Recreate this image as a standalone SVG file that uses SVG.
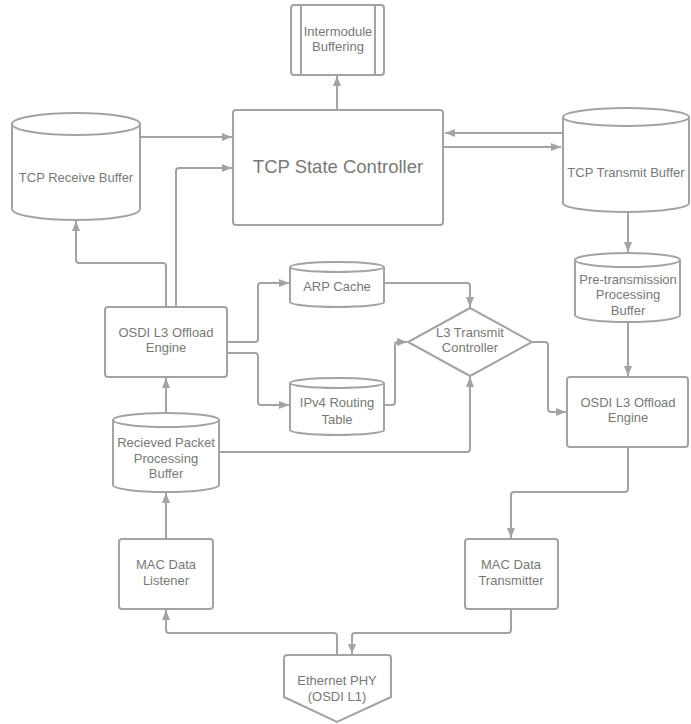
<svg xmlns="http://www.w3.org/2000/svg" width="691" height="724" viewBox="0 0 691 724">
<style>
.s{fill:#fff;stroke:#a3a3a3;stroke-width:2;}
.n{fill:none;stroke:#a3a3a3;stroke-width:2;}
.t{font-family:"Liberation Sans",Arial,sans-serif;font-size:13px;fill:#787878;text-anchor:middle;}
.big{font-size:18.5px;}
.c{fill:none;stroke:#a3a3a3;stroke-width:2;stroke-linejoin:round;marker-end:url(#ah);}
.c0{fill:none;stroke:#a3a3a3;stroke-width:2;stroke-linejoin:round;}
</style>
<defs>
<marker id="ah" markerUnits="userSpaceOnUse" markerWidth="12" markerHeight="10" refX="10" refY="4" orient="auto">
<path d="M0,0 L10,4 L0,8 z" fill="#a3a3a3"/>
</marker>
</defs>
<rect width="691" height="724" fill="#fff"/>
<g id="connectors">
<path class="c" d="M140,137 H232"/>
<path class="c" d="M176,307 V171 Q176,168 179,168 H232"/>
<path class="c" d="M166,307 V266 Q166,263 163,263 H79 Q76,263 76,260 V221"/>
<path class="c" d="M337,110 V76"/>
<path class="c" d="M563,133 H445"/>
<path class="c" d="M443,147 H561"/>
<path class="c" d="M628,212 V252"/>
<path class="c" d="M628,322 V376"/>
<path class="c" d="M227,342 H255 Q258,342 258,339 V286 Q258,283 261,283 H289"/>
<path class="c" d="M227,353 H255 Q258,353 258,356 V402 Q258,405 261,405 H289"/>
<path class="c" d="M384,283 H467 Q470,283 470,286 V307"/>
<path class="c" d="M384,405 H392 Q395,405 395,402 V345 Q395,342 398,342 H407"/>
<path class="c" d="M532,342 H545 Q548,342 548,345 V409 Q548,412 551,412 H566"/>
<path class="c" d="M219,452 H467 Q470,452 470,449 V377"/>
<path class="c" d="M166,413 V378"/>
<path class="c" d="M166,539 V493"/>
<path class="c" d="M628,447 V489 Q628,492 625,492 H514 Q511,492 511,495 V538"/>
<path class="c" d="M337,655 V636 Q337,633 334,633 H169 Q166,633 166,630 V610"/>
<path class="c" d="M511,609 V630 Q511,633 508,633 H355 Q352,633 352,636 V654"/>
</g>
<g id="intermodule">
<rect class="s" x="291" y="5" width="93" height="70" rx="3"/>
<line class="n" x1="301" y1="5" x2="301" y2="75"/>
<line class="n" x1="375" y1="5" x2="375" y2="75"/>
<text class="t" x="338" y="36">Intermodule</text>
<text class="t" x="338" y="51">Buffering</text>
</g>
<g id="tcp-state-controller">
<rect class="s" x="233" y="110" width="210" height="115" rx="3"/>
<text class="t big" x="338" y="173">TCP State Controller</text>
</g>
<g id="tcp-receive-buffer">
<path class="s" d="M12,124 V209 A64,11 0 0 0 140,209 V124 A64,11 0 0 0 12,124 Z"/>
<path class="n" d="M12,124 A64,11 0 0 0 140,124"/>
<text class="t" x="76" y="182">TCP Receive Buffer</text>
</g>
<g id="tcp-transmit-buffer">
<path class="s" d="M563,117 V203 A63,9 0 0 0 689,203 V117 A63,9 0 0 0 563,117 Z"/>
<path class="n" d="M563,117 A63,9 0 0 0 689,117"/>
<text class="t" x="626" y="177">TCP Transmit Buffer</text>
</g>
<g id="pre-transmission-buffer">
<path class="s" d="M575,260 V315 A52.5,7 0 0 0 680,315 V260 A52.5,7 0 0 0 575,260 Z"/>
<path class="n" d="M575,260 A52.5,7 0 0 0 680,260"/>
<text class="t" x="628" y="284">Pre-transmission</text>
<text class="t" x="628" y="299">Processing</text>
<text class="t" x="628" y="315">Buffer</text>
</g>
<g id="osdi-l3-right">
<rect class="s" x="567" y="377" width="121" height="70" rx="3"/>
<text class="t" x="628" y="407">OSDI L3 Offload</text>
<text class="t" x="628" y="422">Engine</text>
</g>
<g id="osdi-l3-left">
<rect class="s" x="105" y="307" width="122" height="70" rx="3"/>
<text class="t" x="166" y="337">OSDI L3 Offload</text>
<text class="t" x="166" y="352">Engine</text>
</g>
<g id="arp-cache">
<path class="s" d="M290,267 V302 A47,5 0 0 0 384,302 V267 A47,5 0 0 0 290,267 Z"/>
<path class="n" d="M290,267 A47,5 0 0 0 384,267"/>
<text class="t" x="337" y="291">ARP Cache</text>
</g>
<g id="ipv4-routing-table">
<path class="s" d="M290,383 V430 A47,5 0 0 0 384,430 V383 A47,5 0 0 0 290,383 Z"/>
<path class="n" d="M290,383 A47,5 0 0 0 384,383"/>
<text class="t" x="337" y="407">IPv4 Routing</text>
<text class="t" x="337" y="424">Table</text>
</g>
<g id="l3-transmit-controller">
<path class="s" d="M470,308 L532,342 L470,376 L408,342 Z"/>
<text class="t" x="470" y="337">L3 Transmit</text>
<text class="t" x="470" y="352">Controller</text>
</g>
<g id="received-packet-buffer">
<path class="s" d="M113,420 V485 A53,7 0 0 0 219,485 V420 A53,7 0 0 0 113,420 Z"/>
<path class="n" d="M113,420 A53,7 0 0 0 219,420"/>
<text class="t" x="166" y="447">Recieved Packet</text>
<text class="t" x="166" y="463">Processing</text>
<text class="t" x="166" y="478">Buffer</text>
</g>
<g id="mac-data-listener">
<rect class="s" x="119" y="539" width="94" height="70" rx="3"/>
<text class="t" x="166" y="569">MAC Data</text>
<text class="t" x="166" y="585">Listener</text>
</g>
<g id="mac-data-transmitter">
<rect class="s" x="465" y="539" width="93" height="70" rx="3"/>
<text class="t" x="511" y="569">MAC Data</text>
<text class="t" x="511" y="585">Transmitter</text>
</g>
<g id="ethernet-phy">
<path class="s" d="M288,655 H388 Q391,655 391,658 V697 L337,722 L284,697 V658 Q284,655 288,655 Z"/>
<text class="t" x="337" y="685">Ethernet PHY</text>
<text class="t" x="337" y="701">(OSDI L1)</text>
</g>
</svg>
